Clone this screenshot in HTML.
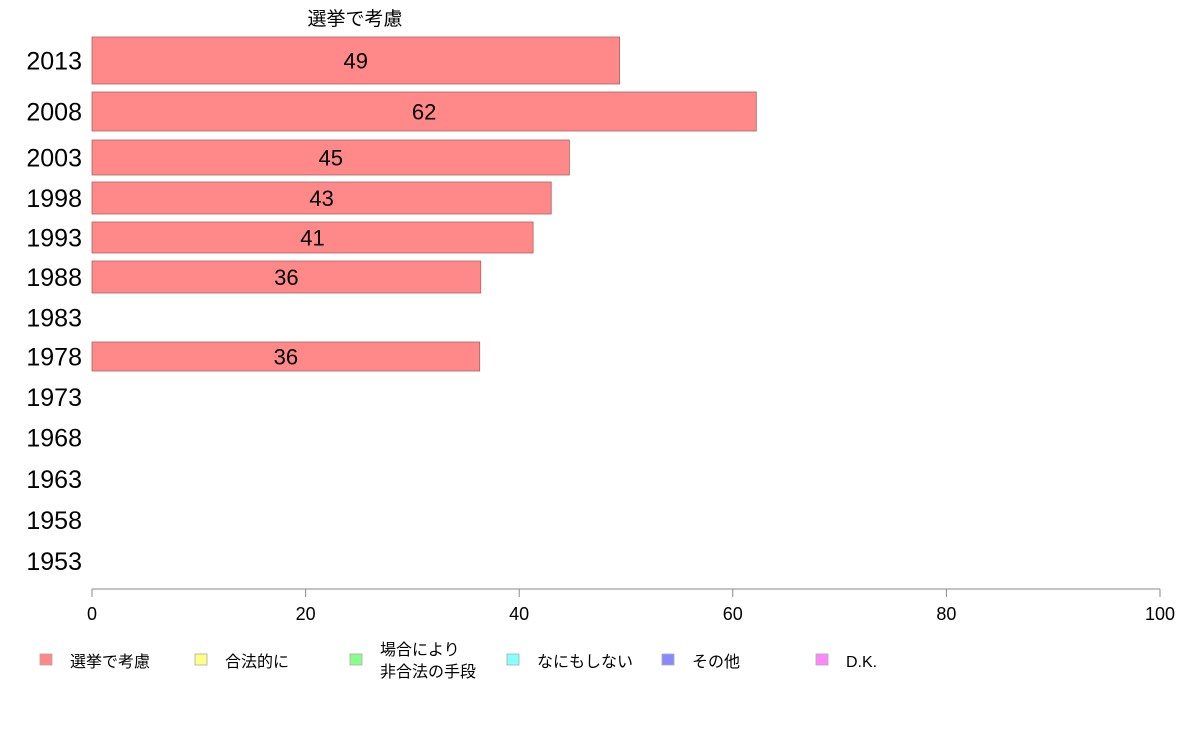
<!DOCTYPE html>
<html><head><meta charset="utf-8"><style>
body{margin:0;background:#fff;width:1188px;height:736px;overflow:hidden;font-family:"Liberation Sans","Noto Sans CJK JP",sans-serif}
</style></head><body>
<svg id="c" width="1188" height="736" style="font-family:'Liberation Sans','Noto Sans CJK JP',sans-serif"></svg>
<script>
const years=["2013","2008","2003","1998","1993","1988","1983","1978","1973","1968","1963","1958","1953"];
const values=[49.4,62.2,44.7,43.0,41.3,36.4,null,36.3,null,null,null,null,null];
const labels=["49","62","45","43","41","36","","36","","","","",""];
const xTicks=[0,20,40,60,80,100];
const legendNames=["選挙で考慮","合法的に","場合により\n非合法の手段","なにもしない","その他","D.K."];
const legendColors=["#ff8888","#ffff88","#88ff88","#88ffff","#8888ff","#ff88ff"];
// layout (row bands, pixels)
const rowTop=[37,92,140,182,222,261,302,342,382,422,463,504,545];
const rowBot=[84,131,175,214,253,293,333,371,412,453,495,536,577];
const NS="http://www.w3.org/2000/svg";
const svg=document.getElementById('c');
function mk(t,a,txt){const e=document.createElementNS(NS,t);for(const k in a)e.setAttribute(k,a[k]);if(txt!=null)e.textContent=txt;svg.appendChild(e);return e;}
const x=v=>92+v*10.68;
const title=mk('text',{x:355,y:25,'text-anchor':'middle','font-size':19},'選挙で考慮');


years.forEach((y,i)=>{
  const cy=(rowTop[i]+rowBot[i])/2;
  const t=mk('text',{x:82,y:cy+9,'text-anchor':'end','font-size':25},y);
  
  
  if(values[i]!=null){
    const r=mk('rect',{x:x(0),y:rowTop[i],width:x(values[i])-x(0),height:rowBot[i]-rowTop[i],fill:'#ff8888',stroke:'#b06060','stroke-width':0.8});
    
    
    const l=mk('text',{x:(x(0)+x(values[i]))/2,y:cy+8,'text-anchor':'middle','font-size':22},labels[i]);
    
    
  }
});
const ax=mk('line',{x1:x(0),x2:x(100),y1:589,y2:589,stroke:'#888'});


xTicks.forEach(v=>{
  const tk=mk('line',{x1:x(v),x2:x(v),y1:589,y2:597,stroke:'#888'});
  
  
  const t=mk('text',{x:x(v),y:620,'text-anchor':'middle','font-size':18},String(v));
  
  
});
const lx=[40,195,350,507,662,816];
legendNames.forEach((n,i)=>{
  const r=mk('rect',{x:lx[i],y:654,width:12,height:11,fill:legendColors[i],stroke:'#aaa','stroke-width':0.8});
  
  
  const parts=n.split('\n');
  parts.forEach((p,j)=>{
    const yy=parts.length>1?655+j*22:667;
    const t=mk('text',{x:lx[i]+30,y:yy,'font-size':16},p);
    
    
  });
});
</script>
</body></html>
